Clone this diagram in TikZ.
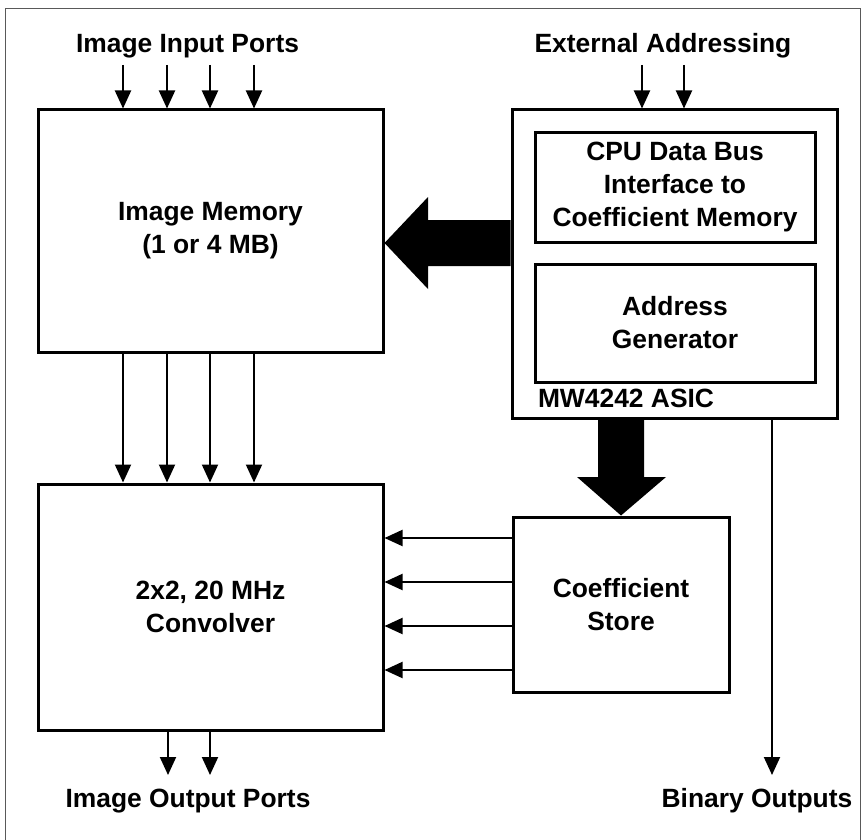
\documentclass[tikz,border=0pt]{standalone}
\usepackage{fontspec}
\setmainfont{Liberation Sans}
\usetikzlibrary{arrows.meta}

\begin{document}
\begin{tikzpicture}[x=1pt,y=-1pt,->,>={Triangle[width=16pt,length=18pt]},line width=2pt,
  box/.style={draw,line width=3pt,inner sep=0pt,align=center,font=\bfseries\fontsize{26.4}{33}\selectfont},
  lbl/.style={anchor=base,inner sep=0pt,font=\bfseries\fontsize{26.4}{33}\selectfont}]

 \useasboundingbox (0,0) rectangle (867,840);
 \draw[-,line width=1pt,gray!70!black] (5,840) -- (5,9) -- (860,9) -- (860,840);

 % blocks
 \node[box,minimum width=345pt,minimum height=242pt] (mem) at (210.5,231) {Image Memory\\(1 or 4 MB)};
 \node[box,minimum width=345pt,minimum height=246pt] (conv) at (210.5,607) {2x2, 20 MHz\\Convolver};
 \node[box,minimum width=325pt,minimum height=308pt] (asic) at (674.5,264) {};
 \node[box,minimum width=280pt,minimum height=109pt] (cpu) at (675,187.5) {CPU Data Bus\\Interface to\\Coefficient Memory};
 \node[box,minimum width=280pt,minimum height=118pt] (addr) at (675,323) {Address\\Generator};
 \node[box,minimum width=216pt,minimum height=175pt] (coef) at (621,604.5) {Coefficient\\Store};

 % labels
 \node[lbl] (inports) at (187.5,53) {Image Input Ports};
 \node[lbl] (extaddr) at (663,53) {External Addressing};
 \node[lbl,anchor=base west] (asicname) at (537,407) {MW4242 ASIC};
 \node[lbl] (outports) at (188,807) {Image Output Ports};
 \node[lbl] (binout) at (757,807) {Binary Outputs};

 % thin connectors
 \foreach \x in {123,167,210,254} {
   \draw (\x,65) -- (mem.north -| \x,0);
   \draw (mem.south -| \x,0) -- (conv.north -| \x,0);
 }
 \foreach \x in {642,684}
   \draw (\x,65) -- (asic.north -| \x,0);
 \foreach \y in {538,582,626,670}
   \draw (coef.west |- 0,\y) -- (conv.east |- 0,\y);
 \foreach \x in {168,210}
   \draw (conv.south -| \x,0) -- (\x,775);
 \draw (asic.south -| 772,0) -- (772,775);

 % wide buses
 \fill (mem.east |- 0,243) -- (428,197) -- (428,220) -- (asic.west |- 0,220)
   -- (asic.west |- 0,266) -- (428,266) -- (428,289) -- cycle;
 \fill (coef.north -| 621,0) -- (577,477) -- (598,477) -- (asic.south -| 598,0)
   -- (asic.south -| 644,0) -- (644,477) -- (666,477) -- cycle;

\end{tikzpicture}
\end{document}
